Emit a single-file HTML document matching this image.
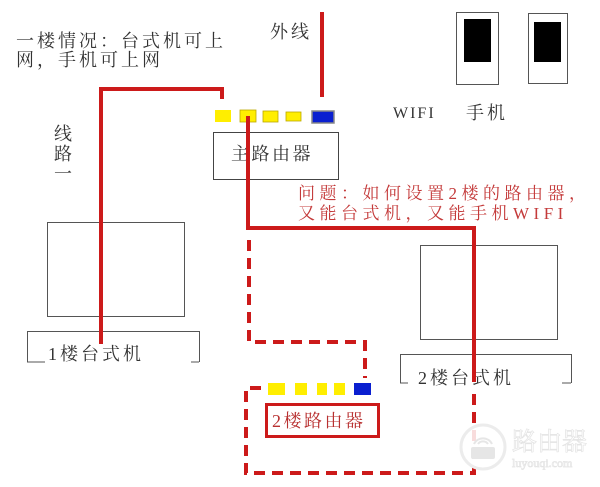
<!DOCTYPE html>
<html><head><meta charset="utf-8"><style>
html,body{margin:0;padding:0;background:#fff;}
svg{display:block;}
text{font-family:"Liberation Serif","Noto Serif CJK SC","Noto Sans CJK SC",serif;}
</style></head><body>
<svg width="600" height="487" viewBox="0 0 600 487" xmlns="http://www.w3.org/2000/svg">
<rect width="600" height="487" fill="#fff"/>
<g font-size="18" fill="#333" letter-spacing="3">
<text x="16" y="47">一楼情况：台式机可上</text>
<text x="16" y="66">网，手机可上网</text>
<text x="270" y="38">外线</text>
<text x="466" y="119">手机</text>
</g>
<g font-size="18" fill="#333">
<text x="54" y="140">线</text>
<text x="54" y="160">路</text>
<text x="54" y="180">一</text>
</g>
<text x="393" y="118" font-size="16" fill="#333" letter-spacing="2">WIFI</text>
<!-- main router -->
<rect x="213.5" y="132.5" width="125" height="47" fill="none" stroke="#444"/>
<text x="231" y="160" font-size="18" fill="#333" letter-spacing="2.5">主路由器</text>
<rect x="215" y="110" width="16" height="12" fill="#ffee00"/>
<rect x="240" y="110" width="16" height="12" fill="#ffee00" stroke="#bba800" stroke-width="0.8"/>
<rect x="263" y="111" width="15" height="11" fill="#ffee00" stroke="#bba800" stroke-width="0.8"/>
<rect x="286" y="112" width="15" height="9" fill="#ffee00" stroke="#bba800" stroke-width="0.8"/>
<rect x="312" y="111" width="22" height="12" fill="#0a1fd0" stroke="#888" stroke-width="1.5"/>
<!-- phones -->
<rect x="456.5" y="12.5" width="42" height="72" fill="none" stroke="#555"/>
<rect x="464" y="19" width="27" height="43" fill="#000"/>
<rect x="528.5" y="13.5" width="39" height="70" fill="none" stroke="#555"/>
<rect x="534" y="22" width="27" height="40" fill="#000"/>
<!-- 1F desk -->
<rect x="47.5" y="222.5" width="137" height="94" fill="none" stroke="#555"/>
<path d="M27.5 362 V331.5 H199.5 V362 M27 362 H45 M191 362 H199" fill="none" stroke="#555"/>
<text x="48" y="360" font-size="18" fill="#333" letter-spacing="3">1楼台式机</text>
<!-- 2F desk -->
<rect x="420.5" y="245.5" width="137" height="94" fill="none" stroke="#555"/>
<path d="M400.5 383 V354.5 H571.5 V383 M400 383 H408 M562 383 H571" fill="none" stroke="#555"/>
<text x="418" y="384" font-size="18" fill="#333" letter-spacing="3">2楼台式机</text>
<!-- question -->
<g font-size="17" fill="#c43a3a" letter-spacing="4.5">
<text x="298" y="199">问题：如何设置2楼的路由器，</text>
<text x="298" y="219">又能台式机，又能手机WIFI</text>
</g>
<!-- red lines -->
<g fill="none" stroke="#cc1a1a" stroke-width="4">
<path d="M322 12 V97"/>
<path d="M222 99 V89 H101 V344"/>
<path d="M248 116 V228 H474 V382"/>
</g>
<g fill="none" stroke="#cc1a1a" stroke-width="4" stroke-dasharray="11 7">
<path d="M249 240 V342 H365 V378"/>
<path d="M474 394 V473 H246 V388 H272"/>
</g>
<!-- 2F router -->
<rect x="268" y="383" width="17" height="12" fill="#ffee00"/>
<rect x="295" y="383" width="12" height="12" fill="#ffee00"/>
<rect x="317" y="383" width="10" height="12" fill="#ffee00"/>
<rect x="334" y="383" width="11" height="12" fill="#ffee00"/>
<rect x="354" y="383" width="17" height="12" fill="#0a1fd0"/>
<rect x="266.5" y="404.5" width="112" height="32" fill="none" stroke="#cc1a1a" stroke-width="3"/>
<text x="272" y="427" font-size="18" fill="#b83030" letter-spacing="2.5">2楼路由器</text>
<!-- watermark -->
<circle cx="483" cy="447" r="22" fill="#fff" fill-opacity="0.85" stroke="#ececec" stroke-width="3"/>
<rect x="471" y="447" width="24" height="12" rx="2" fill="#e6e6e6"/>
<path d="M474 444 a10 10 0 0 1 18 0 M478 444 a6 6 0 0 1 10 0" fill="none" stroke="#e6e6e6" stroke-width="2"/>
<g style="font-family:'Liberation Sans','Noto Sans CJK SC',sans-serif" fill="#fff" stroke="#e4e4e4" stroke-width="0.7">
<text x="512" y="450" font-size="25">路由器</text>
<text x="512" y="467" font-size="12">luyouqi.com</text>
</g>
</svg>
</body></html>
